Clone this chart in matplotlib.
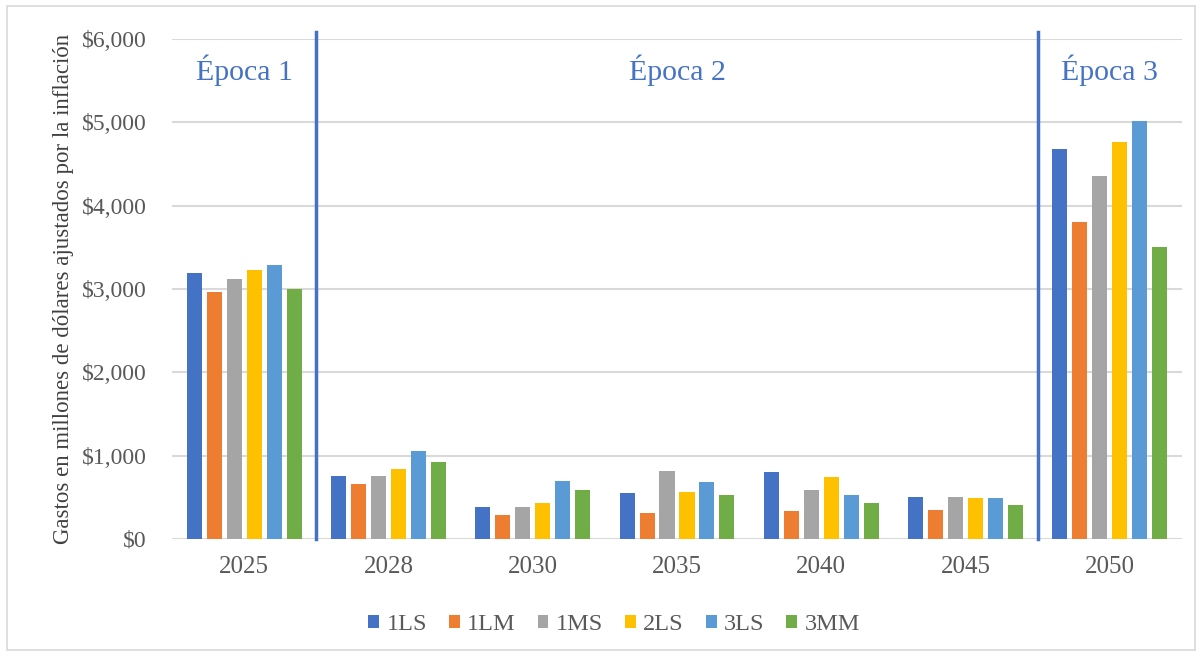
import numpy as np
import matplotlib.pyplot as plt
from matplotlib.patches import Rectangle

# data
years = ["2025", "2028", "2030", "2035", "2040", "2045", "2050"]
series = ["1LS", "1LM", "1MS", "2LS", "3LS", "3MM"]
v_1ls = [3190, 752, 384, 548, 800, 508, 4680]
v_1lm = [2964, 664, 288, 316, 332, 352, 3806]
v_1ms = [3120, 752, 384, 820, 584, 508, 4354]
v_2ls = [3224, 836, 428, 560, 748, 488, 4762]
v_3ls = [3292, 1056, 700, 680, 532, 488, 5015]
v_3mm = [3000, 928, 584, 532, 428, 404, 3506]
epocas = ["Época 1", "Época 2", "Época 3"]

colors = ["#4472C4", "#ED7D31", "#A5A5A5", "#FFC000", "#5B9BD5", "#70AD47"]
values = [v_1ls, v_1lm, v_1ms, v_2ls, v_3ls, v_3mm]

plt.rcParams['font.family'] = ['Liberation Serif', 'DejaVu Serif']

fig = plt.figure(figsize=(12.04, 6.62), dpi=100)
ax = fig.add_axes([172 / 1204, 1 - 539 / 662, 1010 / 1204, 500 / 662])

# outer frame
fig.patches.append(Rectangle((7 / 1204, 1 - 650 / 662), 1188 / 1204, 644 / 662,
                             transform=fig.transFigure, fill=False,
                             edgecolor="#D9D9D9", linewidth=1.2))

x = np.arange(len(years))
pitch = 0.1386
width = 0.104
for i, (name, vals) in enumerate(zip(series, values)):
    ax.bar(x + (i - 2.5) * pitch, vals, width, color=colors[i], label=name,
           zorder=3)

ax.set_xlim(-0.5, len(years) - 0.5)
ax.set_ylim(0, 6000)
ax.set_yticks(np.arange(0, 6001, 1000))
ax.set_yticklabels(["${:,}".format(v) for v in range(0, 6001, 1000)])
ax.set_xticks(x)
ax.set_xticklabels(years)
ax.grid(axis="y", color="#D9D9D9", linewidth=1.5, zorder=0)
for s in ax.spines.values():
    s.set_visible(False)
ax.tick_params(length=0, colors="#595959")
ax.tick_params(axis="y", labelsize=17, pad=18)
ax.tick_params(axis="x", labelsize=18, pad=12)

# epoch separators
for xv in [0.5, 5.5]:
    ax.plot([xv, xv], [0, 6080], color="#4472C4", linewidth=2.5,
            clip_on=False, zorder=4)

ax.text(0, 5620, epocas[0], color="#4472C4", fontsize=21.5, ha="center",
        va="center")
ax.text(3, 5620, epocas[1], color="#4472C4", fontsize=21.5, ha="center",
        va="center")
ax.text(6, 5620, epocas[2], color="#4472C4", fontsize=21.5, ha="center",
        va="center")

ax.set_ylabel("Gastos en millones de dólares ajustados por la inflación",
              fontsize=16.5, color="#404040", labelpad=6)

ax.legend(loc="center", bbox_to_anchor=(614 / 1204, 1 - 625 / 662),
          bbox_transform=fig.transFigure, ncol=6, frameon=False,
          fontsize=17.5, handlelength=0.45, handleheight=0.45,
          handletextpad=0.3, columnspacing=0.9, labelcolor="#595959")

fig.savefig("out.png", dpi=100)
